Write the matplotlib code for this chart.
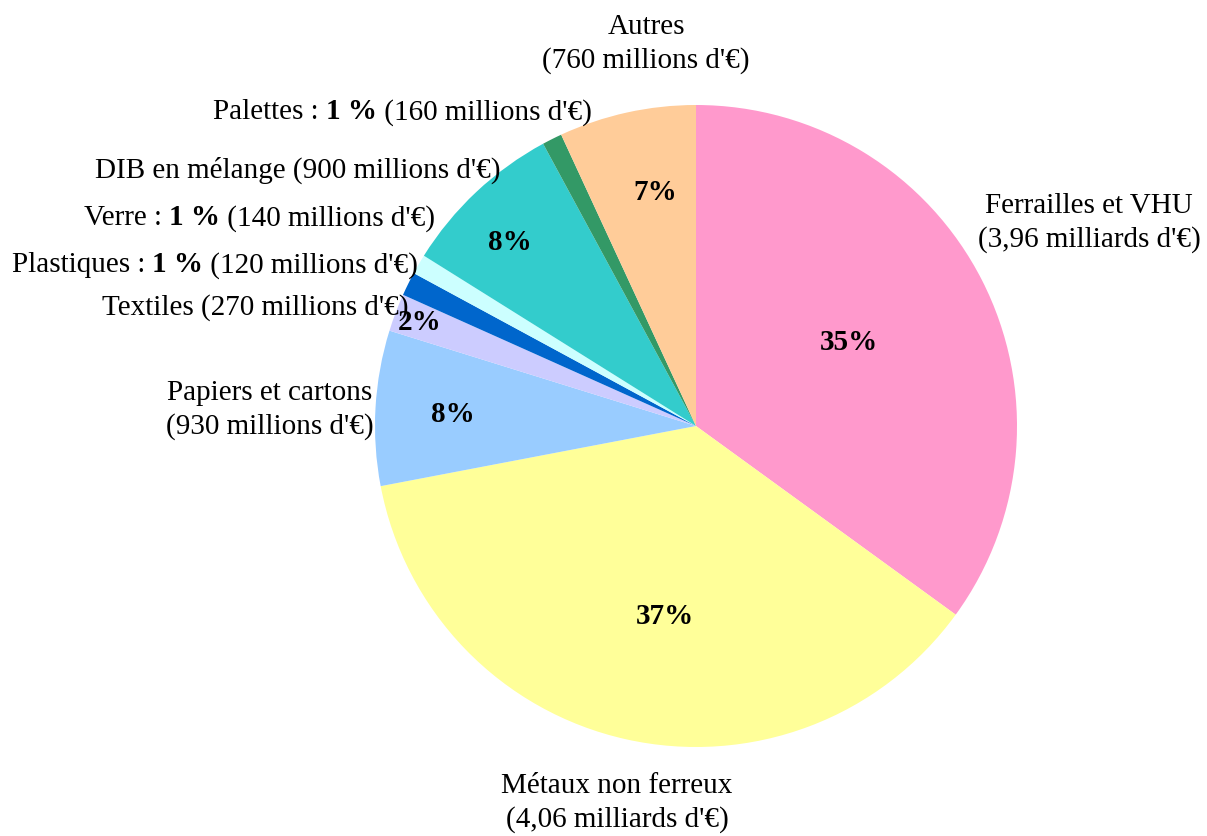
import matplotlib.pyplot as plt
from matplotlib.offsetbox import TextArea, HPacker, AnnotationBbox

plt.rcParams["font.family"] = ["Liberation Serif", "DejaVu Serif"]

# slices, clockwise from 12 o'clock
categories = ["Ferrailles et VHU", "Métaux non ferreux", "Papiers et cartons",
              "Textiles", "Plastiques", "Verre", "DIB en mélange", "Palettes", "Autres"]
shares = [35.0, 37.0, 7.8, 1.9, 1.2, 1.0, 8.2, 1.0, 6.9]
amounts = ["3,96 milliards d'€", "4,06 milliards d'€", "930 millions d'€",
           "270 millions d'€", "120 millions d'€", "140 millions d'€",
           "900 millions d'€", "160 millions d'€", "760 millions d'€"]
inner_pct = ["35%", "37%", "8%", "2%", "", "", "8%", "", "7%"]
colors = ["#FF99CC", "#FFFF99", "#99CCFF", "#CCCCFF", "#0066CC",
          "#CCFFFF", "#33CCCC", "#339966", "#FFCC99"]

W, H = 1207, 837
fig = plt.figure(figsize=(W / 100, H / 100), dpi=100)
ax = fig.add_axes([0, 0, 1, 1])

cx, cy, r = 696, H - 427, 321
ax.pie(shares, colors=colors, startangle=90, counterclock=False,
       center=(cx, cy), radius=r, wedgeprops=dict(linewidth=0), frame=True)
ax.set_xlim(0, W)
ax.set_ylim(0, H)
ax.set_aspect("equal")
ax.axis("off")

fs = 21

# inner percentage labels (pixel positions, y from top)
pct_pos = [(849, 343), (665, 617), (453, 414), (420, 322), None, None,
           (510, 243), None, (655, 192)]
for txt, pos in zip(inner_pct, pct_pos):
    if txt and pos:
        ax.text(pos[0], H - pos[1], txt, ha="center", va="center",
                fontsize=fs, fontweight="bold")


def centered_two_lines(x, y, name, amount):
    ax.text(x, H - y, name + "\n(" + amount + ")", ha="center", va="center",
            fontsize=fs, linespacing=1.3)


def mixed_right(xr, y, parts):
    areas = [TextArea(t, textprops=dict(fontsize=fs, fontweight=w)) for t, w in parts]
    box = HPacker(children=areas, align="baseline", pad=0, sep=0)
    ab = AnnotationBbox(box, (xr, H - y), xycoords="data", box_alignment=(1, 0.5),
                        frameon=False, pad=0)
    ax.add_artist(ab)


centered_two_lines(1089, 223, categories[0], amounts[0])
centered_two_lines(617, 803, categories[1], amounts[1])
centered_two_lines(270, 410, categories[2], amounts[2])
centered_two_lines(646, 44, categories[8], amounts[8])

mixed_right(408, 308, [(categories[3] + " (" + amounts[3] + ")", "normal")])
mixed_right(418, 265, [(categories[4] + " : ", "normal"), ("1 %", "bold"),
                       (" (" + amounts[4] + ")", "normal")])
mixed_right(435, 218, [(categories[5] + " : ", "normal"), ("1 %", "bold"),
                       (" (" + amounts[5] + ")", "normal")])
mixed_right(500, 170, [(categories[6] + " (" + amounts[6] + ")", "normal")])
mixed_right(592, 112, [(categories[7] + " : ", "normal"), ("1 %", "bold"),
                       (" (" + amounts[7] + ")", "normal")])

fig.savefig("out.png", dpi=100)
